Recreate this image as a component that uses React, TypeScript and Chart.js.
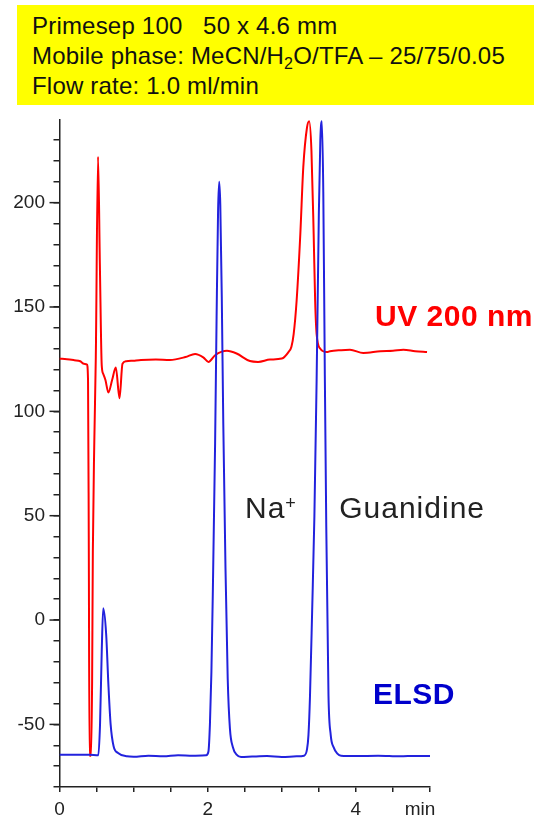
import { useEffect, useRef } from "react";
import { Chart, registerables } from "chart.js";

Chart.register(...registerables);

// ---- Data ----
const uvTimes = [
  0.0, 0.1, 0.2, 0.28, 0.33, 0.37, 0.385, 0.395, 0.405, 0.425, 0.44, 0.45, 0.47, 0.49, 0.52,
  0.545, 0.57, 0.59, 0.62, 0.66, 0.71, 0.76, 0.81, 0.85, 0.9, 1.0, 1.1, 1.3, 1.49, 1.7, 1.83,
  1.94, 2.01, 2.1, 2.26, 2.39, 2.57, 2.68, 2.84, 3.0, 3.09, 3.13, 3.16, 3.2, 3.25, 3.29, 3.34,
  3.37, 3.4, 3.43, 3.45, 3.47, 3.52, 3.61, 3.65, 3.8, 3.92, 4.1, 4.33, 4.5, 4.64, 4.8, 4.96,
];
const uvValues = [
  125.2, 125.0, 124.5, 124.0, 122.8, 122.5, 115, 40, -65, -65, -30, 33, 86, 126, 222,
  170, 122, 118, 115, 109, 115, 121, 106.3, 122.8, 124, 124.3, 124.6, 124.8, 124.6, 126, 127.5,
  125.9, 123.7, 126.9, 129, 127.7, 124.1, 123.7, 124.8, 125.3, 128.4, 131, 137, 153, 185, 217, 236,
  239, 225, 185, 153, 137, 130, 128.4, 128.8, 129.3, 129.5, 128, 128.8, 129, 129.5, 128.8, 128.4,
];

const elsdTimes = [
  0.0, 0.2, 0.4, 0.524, 0.547, 0.57, 0.59, 0.63, 0.66, 0.69, 0.73, 0.79, 0.91, 1.0, 1.2, 1.4,
  1.6, 1.8, 1.98, 2.01, 2.03, 2.05, 2.07, 2.1, 2.12, 2.14, 2.155, 2.17, 2.19, 2.21, 2.24, 2.27,
  2.3, 2.34, 2.39, 2.45, 2.6, 2.8, 3.0, 3.2, 3.3, 3.34, 3.36, 3.38, 3.41, 3.44, 3.47, 3.5, 3.52,
  3.54, 3.56, 3.58, 3.6, 3.63, 3.66, 3.7, 3.75, 3.8, 4.0, 4.3, 4.6, 4.8, 5.0,
];
const elsdValues = [
  -64.5, -64.6, -64.5, -64.8, -50, -15, 5.6, -6.9, -31, -50, -60.5, -63.7, -65.3, -65.5, -65.0, -65.3,
  -64.8, -65.0, -64.8, -63, -50, -25, 15, 85, 145, 196, 210, 199, 155, 95, 25, -28,
  -52, -61, -64.5, -65.6, -65.4, -65.2, -65.6, -65.3, -65.0, -62, -55, -37, 5, 50, 115, 195, 230,
  239, 205, 120, 45, -36, -55, -61, -64, -65, -65.2, -65.0, -65.3, -65.1, -65.2,
];

const xTickLabels: Record<number, string> = { 0: "0", 2: "2", 4: "4" };
const xUnitLabel = "min";
const yMajorStep = 50;
const yMinorStep = 10;
const xStep = 0.5;
const yMin = -80;
const yMax = 239.6;
const xMin = 0;
const xMax = 5;

const seriesNames = ["UV 200 nm", "ELSD"];
const peakNames = ["Na", "Guanidine"];

const FONT = '"Liberation Sans", Arial, sans-serif';
const RED = "#ff0000";
const BLUE = "#2222dd";

const labelsPlugin = {
  id: "chromLabels",
  afterDraw(chart: any) {
    const { ctx, scales, chartArea } = chart;
    const x = scales.x;
    const y = scales.y;
    ctx.save();
    // longer major ticks on y axis
    ctx.strokeStyle = "#222";
    ctx.lineWidth = 1.5;
    for (const t of y.ticks) {
      if (Math.abs(t.value % yMajorStep) < 1e-9) {
        const py = y.getPixelForValue(t.value);
        ctx.beginPath();
        ctx.moveTo(chartArea.left - 10, py);
        ctx.lineTo(chartArea.left, py);
        ctx.stroke();
      }
    }
    ctx.textBaseline = "alphabetic";
    ctx.textAlign = "left";
    // series labels
    ctx.font = `bold 30px ${FONT}`;
    (ctx as any).letterSpacing = "0.5px";
    ctx.fillStyle = RED;
    ctx.fillText(seriesNames[0], x.getPixelForValue(4.258), y.getPixelForValue(141.1));
    ctx.fillStyle = "#0000cc";
    ctx.fillText(seriesNames[1], x.getPixelForValue(4.231), y.getPixelForValue(-40.3));
    // peak labels
    (ctx as any).letterSpacing = "1px";
    ctx.font = `30px ${FONT}`;
    ctx.fillStyle = "#222";
    const naX = x.getPixelForValue(2.503);
    const naY = y.getPixelForValue(48.9);
    ctx.fillText(peakNames[0], naX, naY);
    const naW = ctx.measureText(peakNames[0]).width;
    ctx.font = `18px ${FONT}`;
    ctx.fillText("+", naX + naW, naY - 9);
    ctx.font = `30px ${FONT}`;
    ctx.fillText(peakNames[1], x.getPixelForValue(3.775), naY);
    (ctx as any).letterSpacing = "0px";
    // unit label on x axis
    ctx.font = `19px ${FONT}`;
    ctx.textAlign = "center";
    ctx.textBaseline = "top";
    ctx.fillText(xUnitLabel, x.getPixelForValue(4.865), chartArea.bottom + 13);
    ctx.restore();
  },
};

function ChromChart() {
  const ref = useRef<HTMLCanvasElement | null>(null);
  useEffect(() => {
    if (!ref.current) return;
    const uv = uvTimes.map((t, i) => ({ x: t, y: uvValues[i] }));
    const elsd = elsdTimes.map((t, i) => ({ x: t, y: elsdValues[i] }));
    const chart = new Chart(ref.current, {
      type: "line",
      data: {
        datasets: [
          {
            label: seriesNames[0],
            data: uv,
            borderColor: RED,
            borderWidth: 2,
            pointRadius: 0,
            cubicInterpolationMode: "monotone",
            order: 1,
          },
          {
            label: seriesNames[1],
            data: elsd,
            borderColor: BLUE,
            borderWidth: 2,
            pointRadius: 0,
            cubicInterpolationMode: "monotone",
            order: 0,
          },
        ],
      },
      options: {
        responsive: false,
        animation: false,
        events: [],
        layout: { padding: { left: 0, right: 104, top: 120, bottom: 0 } },
        plugins: { legend: { display: false }, tooltip: { enabled: false } },
        scales: {
          x: {
            type: "linear",
            min: xMin,
            max: xMax,
            afterFit: (s: any) => {
              s.height = 32;
            },
            border: { display: true, color: "#222", width: 1.5 },
            grid: { display: true, drawOnChartArea: false, drawTicks: true, tickLength: 5, color: "#222", lineWidth: 1.5 },
            ticks: {
              stepSize: xStep,
              autoSkip: false,
              maxRotation: 0,
              includeBounds: false,
              padding: 6,
              color: "#222",
              font: { family: FONT, size: 19 },
              callback: (v: any) => xTickLabels[Number(v)] ?? "",
            },
          },
          y: {
            type: "linear",
            min: yMin,
            max: yMax,
            afterFit: (s: any) => {
              s.width = 59.5;
            },
            border: { display: true, color: "#222", width: 1.5 },
            grid: { display: true, drawOnChartArea: false, drawTicks: true, tickLength: 6, color: "#222", lineWidth: 1.5 },
            ticks: {
              stepSize: yMinorStep,
              autoSkip: false,
              includeBounds: false,
              padding: 8.5,
              color: "#222",
              font: { family: FONT, size: 19 },
              callback: (v: any) => (Math.abs(Number(v) % yMajorStep) < 1e-9 ? String(v) : ""),
            },
          },
        },
      },
      plugins: [labelsPlugin],
    });
    return () => chart.destroy();
  }, []);
  return <canvas ref={ref} width={534} height={819} style={{ position: "absolute", left: 0, top: 0 }} />;
}

export default function App() {
  return (
    <div style={{ position: "absolute", left: 0, top: 0, width: 534, height: 819, background: "#fff", overflow: "hidden" }}>
      <ChromChart />
      <div
        style={{
          position: "absolute",
          left: 17,
          top: 5,
          width: 517,
          height: 100,
          background: "#ffff00",
          fontFamily: FONT,
          fontSize: 24,
          lineHeight: "30px",
          letterSpacing: "0.2px",
          color: "#111",
          boxSizing: "border-box",
          paddingLeft: 15,
          paddingTop: 6,
          whiteSpace: "pre",
        }}
      >
        <div>Primesep 100   50 x 4.6 mm</div>
        <div>
          Mobile phase: MeCN/H<span style={{ fontSize: 16, verticalAlign: "-5px", lineHeight: 0 }}>2</span>O/TFA – 25/75/0.05
        </div>
        <div>Flow rate: 1.0 ml/min</div>
      </div>
    </div>
  );
}
